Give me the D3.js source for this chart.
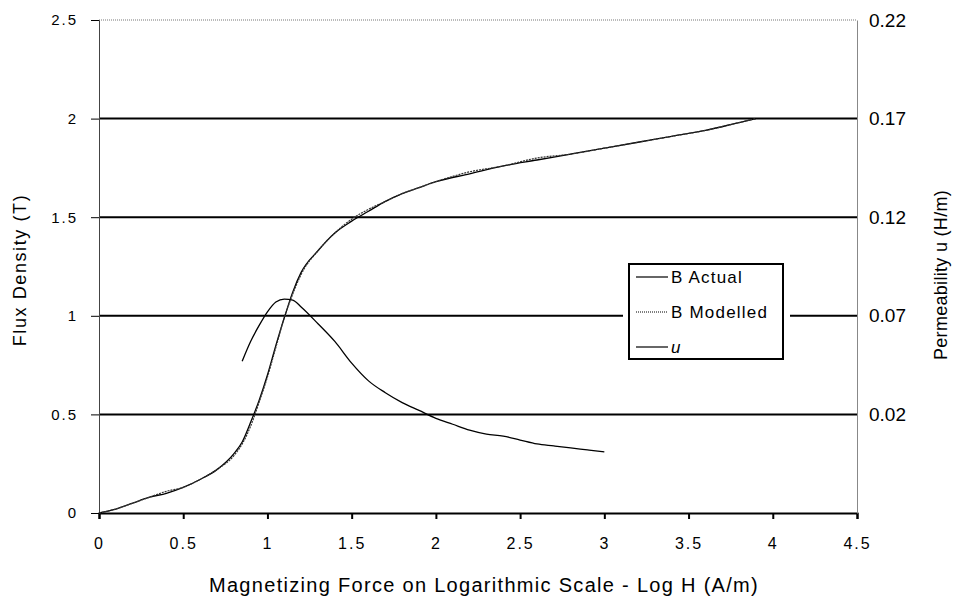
<!DOCTYPE html>
<html>
<head>
<meta charset="utf-8">
<script src="https://cdn.jsdelivr.net/npm/d3@7"></script>
<style>
  body { margin: 0; background: #fff; }
  text { font-family: "Liberation Sans", Arial, sans-serif; fill: #000; }
</style>
</head>
<body>
<div id="chart"></div>
<script>
// log H values and flux density readings
var logH = [0, 0.1, 0.2, 0.3, 0.4, 0.5, 0.6, 0.7, 0.8, 0.85, 0.9, 0.95, 1.0, 1.05, 1.1,
  1.15, 1.2, 1.3, 1.4, 1.5, 1.6, 1.7, 1.8, 1.9, 2.0, 2.2, 2.4, 2.6, 2.8, 3.0, 3.2,
  3.4, 3.6, 3.8, 3.9];
var bActual = [0, 0.02, 0.05, 0.08, 0.1, 0.13, 0.17, 0.22, 0.3, 0.36, 0.46, 0.57, 0.7, 0.85, 0.99,
  1.12, 1.22, 1.33, 1.42, 1.48, 1.53, 1.58, 1.62, 1.65, 1.68, 1.72, 1.76, 1.79, 1.82, 1.85, 1.88,
  1.91, 1.94, 1.98, 2.0];
var bModelled = [0, 0.02, 0.05, 0.08, 0.11, 0.13, 0.17, 0.22, 0.29, 0.35, 0.44, 0.56, 0.69, 0.84, 0.99,
  1.11, 1.21, 1.33, 1.42, 1.49, 1.54, 1.58, 1.62, 1.65, 1.68, 1.73, 1.76, 1.8, 1.82, 1.85, 1.88,
  1.91, 1.94, 1.98, 2.0];

// permeability curve
var uLogH = [0.85, 0.9, 0.95, 1.0, 1.05, 1.1, 1.15, 1.2, 1.3, 1.4, 1.5, 1.6, 1.7, 1.8, 1.9,
  2.0, 2.1, 2.2, 2.3, 2.4, 2.5, 2.6, 2.7, 2.8, 2.9, 3.0];
var uVals = [0.047, 0.057, 0.065, 0.072, 0.077, 0.0785, 0.078, 0.0745, 0.066, 0.057, 0.046, 0.037,
  0.031, 0.026, 0.022, 0.018, 0.015, 0.012, 0.010, 0.009, 0.007, 0.005, 0.004, 0.003, 0.002, 0.001];

var xTicks = [0, 0.5, 1, 1.5, 2, 2.5, 3, 3.5, 4, 4.5];
var yTicks = [0, 0.5, 1, 1.5, 2, 2.5];
var uTicks = [0.02, 0.07, 0.12, 0.17, 0.22];
var legendNames = ["B Actual", "B Modelled", "u"];

var svgWidth = 956, svgHeight = 602;
var margin = { top: 20, right: 99, bottom: 89, left: 99 };
var width = svgWidth - margin.left - margin.right;
var height = svgHeight - margin.top - margin.bottom;

var svg = d3.select("#chart").append("svg")
  .attr("width", svgWidth)
  .attr("height", svgHeight);

var chart = svg.append("g")
  .attr("transform", `translate(${margin.left}, ${margin.top})`);

var x = d3.scaleLinear().domain([0, 4.5]).range([0, width]);
var y = d3.scaleLinear().domain([0, 2.5]).range([height, 0]);
var yU = d3.scaleLinear().domain([-0.03, 0.22]).range([height, 0]);

// top border (faint dotted)
chart.append("line")
  .attr("x1", 0).attr("x2", width).attr("y1", 0).attr("y2", 0)
  .attr("stroke", "#777").attr("stroke-width", 1).attr("stroke-dasharray", "1,1");

// gridlines, the one at 1 is broken round the legend
var legX = 530, legY = 244, legW = 154, legH = 95;
[0.5, 1, 1.5, 2].forEach(function(v) {
  if (v === 1) {
    chart.append("line").attr("x1", 0).attr("x2", legX - 6).attr("y1", y(v)).attr("y2", y(v))
      .attr("stroke", "#000").attr("stroke-width", 2);
    chart.append("line").attr("x1", legX + legW + 7).attr("x2", width).attr("y1", y(v)).attr("y2", y(v))
      .attr("stroke", "#000").attr("stroke-width", 2);
  } else {
    chart.append("line").attr("x1", 0).attr("x2", width).attr("y1", y(v)).attr("y2", y(v))
      .attr("stroke", "#000").attr("stroke-width", 2);
  }
});

// axes
var xAxis = d3.axisBottom(x).tickValues(xTicks).tickSize(6).tickPadding(19)
  .tickFormat(d3.format(""));
var gx = chart.append("g").attr("transform", `translate(0, ${height})`).call(xAxis);
gx.select(".domain").attr("stroke-width", 2);
gx.selectAll(".tick line").attr("stroke-width", 2);
gx.selectAll(".tick text")
  .style("font-family", "'Liberation Sans', Arial, sans-serif")
  .style("font-size", "16px").style("letter-spacing", "2px");

var yAxis = d3.axisLeft(y).tickValues(yTicks).tickSize(8).tickPadding(13)
  .tickFormat(d3.format(""));
var gy = chart.append("g").call(yAxis);
gy.select(".domain").attr("stroke", "#444");
gy.selectAll(".tick text")
  .style("font-family", "'Liberation Sans', Arial, sans-serif")
  .style("font-size", "15px").style("letter-spacing", "2px");

var uAxis = d3.axisRight(yU).tickValues(uTicks).tickSize(0).tickPadding(12)
  .tickFormat(d3.format(".2f"));
var gu = chart.append("g").attr("transform", `translate(${width}, 0)`).call(uAxis);
gu.select(".domain").attr("stroke", "#888");
gu.selectAll(".tick text")
  .style("font-family", "'Liberation Sans', Arial, sans-serif")
  .style("font-size", "19px");

// curves
var lineB = d3.line().x(function(d) { return x(d[0]); }).y(function(d) { return y(d[1]); })
  .curve(d3.curveMonotoneX);
var lineU = d3.line().x(function(d) { return x(d[0]); }).y(function(d) { return yU(d[1]); })
  .curve(d3.curveMonotoneX);

chart.append("path")
  .datum(d3.zip(logH, bActual))
  .attr("fill", "none").attr("stroke", "#000").attr("stroke-width", 1.3)
  .attr("d", lineB);

chart.append("path")
  .datum(d3.zip(logH, bModelled))
  .attr("fill", "none").attr("stroke", "#333").attr("stroke-width", 1.2)
  .attr("stroke-dasharray", "2,1")
  .attr("d", lineB);

chart.append("path")
  .datum(d3.zip(uLogH, uVals))
  .attr("fill", "none").attr("stroke", "#000").attr("stroke-width", 1.3)
  .attr("d", lineU);

// legend
var leg = chart.append("g").attr("transform", `translate(${legX}, ${legY})`);
leg.append("rect").attr("width", legW).attr("height", legH)
  .attr("fill", "#fff").attr("stroke", "#000").attr("stroke-width", 2);
legendNames.forEach(function(name, i) {
  var ly = 13 + i * 35;
  leg.append("line").attr("x1", 7).attr("x2", 39).attr("y1", ly).attr("y2", ly)
    .attr("stroke", "#000").attr("stroke-width", 1.2)
    .attr("stroke-dasharray", i === 1 ? "1,1" : null);
  leg.append("text").attr("x", 42).attr("y", ly + 6)
    .style("font-size", "17px")
    .style("letter-spacing", "1.2px")
    .style("font-style", i === 2 ? "italic" : "normal")
    .text(name);
});

// axis titles
svg.append("text")
  .attr("transform", "translate(26, 270) rotate(-90)")
  .attr("text-anchor", "middle")
  .style("font-size", "18px")
  .style("letter-spacing", "1.6px")
  .text("Flux Density (T)");

svg.append("text")
  .attr("transform", "translate(947, 275) rotate(-90)")
  .attr("text-anchor", "middle")
  .style("font-size", "18px")
  .style("letter-spacing", "0.3px")
  .text("Permeability u (H/m)");

svg.append("text")
  .attr("x", 484).attr("y", 592)
  .attr("text-anchor", "middle")
  .style("font-size", "20px")
  .style("letter-spacing", "1.3px")
  .text("Magnetizing Force on Logarithmic Scale - Log H (A/m)");
</script>
</body>
</html>
